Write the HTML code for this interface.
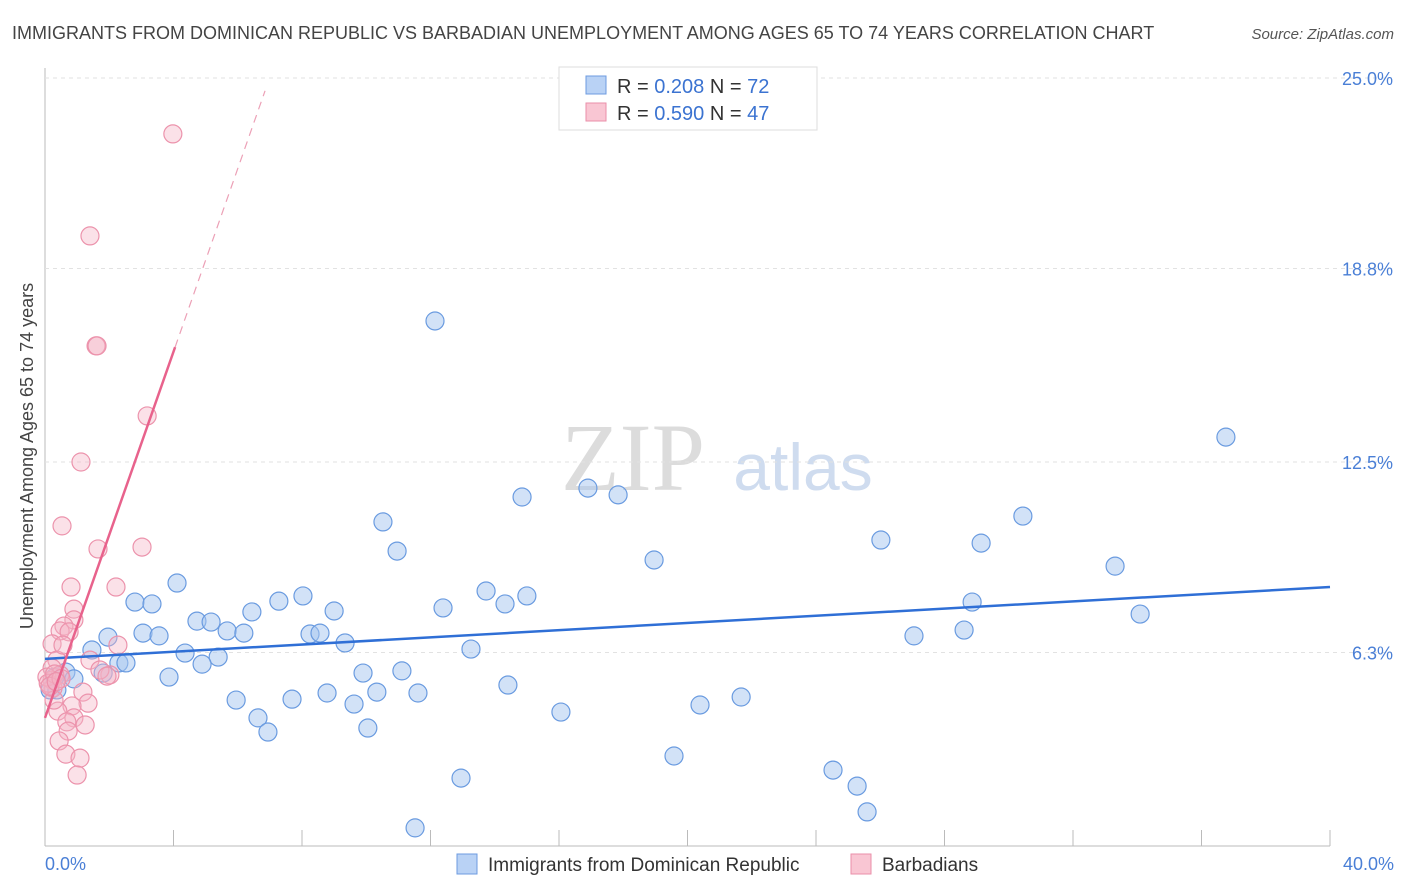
<!DOCTYPE html>
<html><head><meta charset="utf-8"><style>
body{margin:0;background:#fff;font-family:"Liberation Sans",sans-serif;}
#wrap{position:relative;width:1406px;height:892px;overflow:hidden;}
</style></head><body>
<div id="wrap">
<svg id="svg" width="1406" height="892" xmlns="http://www.w3.org/2000/svg">
<text x="12" y="39" font-size="18" fill="#444">IMMIGRANTS FROM DOMINICAN REPUBLIC VS BARBADIAN UNEMPLOYMENT AMONG AGES 65 TO 74 YEARS CORRELATION CHART</text>
<text x="1394" y="39" font-size="15" fill="#555" font-style="italic" text-anchor="end">Source: ZipAtlas.com</text>
<text x="633" y="490" font-size="96" fill="#dcdcdc" font-family="Liberation Serif,serif" text-anchor="middle">ZIP</text>
<text x="803" y="490" font-size="66" fill="#cfdcef" text-anchor="middle">atlas</text>
<text transform="translate(33,456) rotate(-90)" font-size="18" fill="#444" text-anchor="middle">Unemployment Among Ages 65 to 74 years</text>
<g id="grid"></g><g id="pts"></g><g id="lines"></g>
<g>
<rect x="559" y="67" width="258" height="63" fill="#fff" stroke="#ddd"/>
<rect x="586" y="76" width="20" height="18" fill="#b9d2f5" stroke="#6d9be0"/>
<rect x="586" y="103" width="20" height="18" fill="#f9c6d3" stroke="#ea8fa9"/>
<text x="617" y="93" font-size="20" fill="#333">R = <tspan fill="#3b73d1">0.208</tspan>   N = <tspan fill="#3b73d1">72</tspan></text>
<text x="617" y="120" font-size="20" fill="#333">R = <tspan fill="#3b73d1">0.590</tspan>   N = <tspan fill="#3b73d1">47</tspan></text>
</g>
<g>
<rect x="457" y="854" width="20" height="20" fill="#b9d2f5" stroke="#6d9be0"/>
<text x="488" y="871" font-size="19" fill="#333">Immigrants from Dominican Republic</text>
<rect x="851" y="854" width="20" height="20" fill="#f9c6d3" stroke="#ea8fa9"/>
<text x="882" y="871" font-size="19" fill="#333">Barbadians</text>
</g>
<text x="45" y="870" font-size="18" fill="#4a7fd6">0.0%</text>
<text x="1394" y="870" font-size="18" fill="#4a7fd6" text-anchor="end">40.0%</text>
</svg>
</div>
<script>
const yTicks=[6.3,12.5,18.8,25.0];
const blueX=[12.14,36.76,16.90,17.84,14.85,10.52,30.44,26.02,29.14,10.96,18.96,33.31,4.11,13.73,15.00,2.80,3.33,7.28,8.03,12.39,14.32,28.86,6.44,9.00,34.09,4.73,5.17,1.96,3.05,3.55,5.67,6.19,8.25,8.56,28.61,27.05,9.34,1.46,4.36,5.39,13.26,2.30,2.52,4.89,1.81,0.65,0.31,0.90,3.86,9.90,11.11,14.41,8.78,10.33,11.61,5.95,7.69,9.62,21.67,20.39,16.06,6.63,6.94,10.05,19.58,24.53,12.95,25.28,25.59,11.52,0.16,0.37];
const blueY=[17.09,13.31,11.65,11.43,11.36,10.55,10.74,9.96,9.86,9.60,9.31,9.11,8.56,8.30,8.14,7.94,7.88,7.97,8.14,7.75,7.88,7.94,7.62,7.65,7.55,7.32,7.29,6.80,6.93,6.84,7.00,6.93,6.90,6.93,7.03,6.84,6.61,6.38,6.28,6.15,6.41,5.96,5.96,5.92,5.63,5.66,5.50,5.44,5.50,5.63,5.70,5.24,4.98,5.01,4.98,4.75,4.78,4.62,4.85,4.59,4.36,4.17,3.71,3.84,2.93,2.47,2.21,1.95,1.11,0.59,5.08,5.08];
const pinkX=[3.98,1.40,1.59,1.62,3.18,1.12,0.53,1.65,3.02,0.81,2.21,0.90,0.90,0.59,0.47,0.75,0.22,2.27,1.40,0.37,0.22,2.02,0.47,0.22,0.25,1.18,1.34,0.84,0.40,0.90,0.68,1.25,0.72,0.44,0.65,1.09,1.00,0.06,0.28,0.56,1.71,1.93,0.10,0.30,0.15,0.50,0.35];
const pinkY=[23.18,19.86,16.28,16.28,14.00,12.50,10.42,9.67,9.73,8.43,8.43,7.71,7.36,7.16,7.00,6.97,6.58,6.54,6.05,6.05,5.79,5.57,5.57,5.40,5.14,5.01,4.65,4.56,4.39,4.17,4.04,3.94,3.74,3.42,2.99,2.86,2.31,5.50,4.75,6.54,5.73,5.53,5.30,5.60,5.20,5.45,5.35];
const blueLine=[6.09,8.43]; // y at x=0 and x=40
const pinkLine=[4.17,2.98]; // intercept, slope
const X=v=>45+v/40*1285, Y=v=>846-v/6.25*192;
const NS="http://www.w3.org/2000/svg";
function mk(tag,attrs,parent){const e=document.createElementNS(NS,tag);for(const k in attrs)e.setAttribute(k,attrs[k]);parent.appendChild(e);return e;}
const grid=document.getElementById('grid');
const ax=mk('line',{x1:45,y1:846,x2:1330,y2:846,stroke:'#bbb'},grid);


const ay=mk('line',{x1:45,y1:68,x2:45,y2:846,stroke:'#bbb'},grid);


for(let i=0;i<=10;i++){const t=mk('line',{x1:X(i*4),y1:830,x2:X(i*4),y2:846,stroke:'#bbb'},grid);

}
yTicks.forEach(v=>{const y=Y(v);
const g=mk('line',{x1:45,y1:y,x2:1392,y2:y,stroke:'#e2e2e2','stroke-dasharray':'4,4'},grid);


const t=mk('text',{x:1393,y:y+7,'font-size':18,fill:'#4a7fd6','text-anchor':'end'},grid);t.textContent=v.toFixed(1)+'%';

});
const pts=document.getElementById('pts');
blueX.forEach((x,i)=>{const c=mk('circle',{cx:X(x),cy:Y(blueY[i]),r:9,fill:'rgba(165,198,240,0.5)',stroke:'#6a9be0','stroke-width':1.2},pts);

});
pinkX.forEach((x,i)=>{const c=mk('circle',{cx:X(x),cy:Y(pinkY[i]),r:9,fill:'rgba(246,180,198,0.4)',stroke:'#ec93ac','stroke-width':1.2},pts);

});
const lines=document.getElementById('lines');
const bl=mk('line',{x1:X(0),y1:Y(blueLine[0]),x2:X(40),y2:Y(blueLine[1]),stroke:'#2f6fd6','stroke-width':2.5},lines);


const pl=mk('line',{x1:X(0),y1:Y(pinkLine[0]),x2:X(4.05),y2:Y(pinkLine[0]+pinkLine[1]*4.05),stroke:'#e8628c','stroke-width':2.5},lines);


const pd=mk('line',{x1:X(4.05),y1:Y(pinkLine[0]+pinkLine[1]*4.05),x2:X(6.85),y2:Y(pinkLine[0]+pinkLine[1]*6.85),stroke:'#eca0b6','stroke-width':1.2,'stroke-dasharray':'8,6'},lines);


</script>
</body></html>
